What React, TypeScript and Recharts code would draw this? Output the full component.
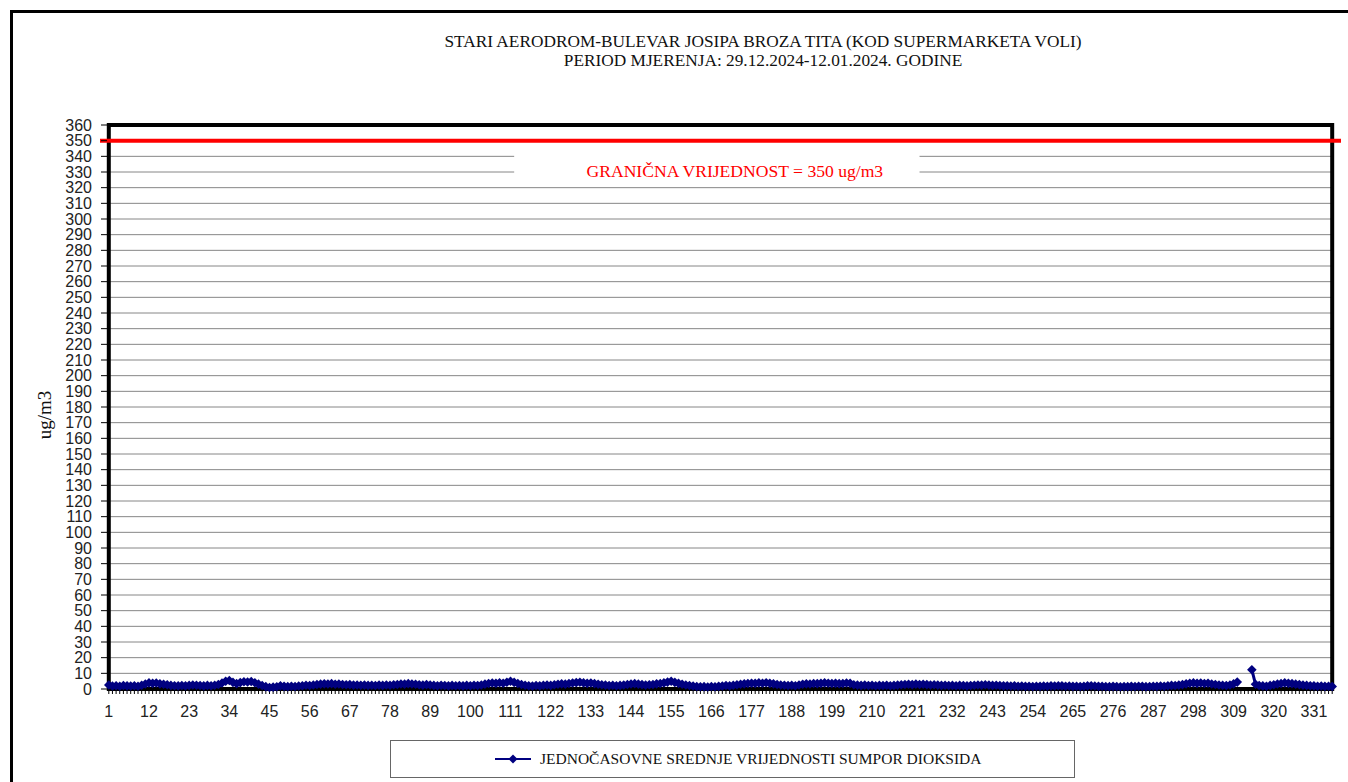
import React from "react";
import {
  LineChart,
  Line,
  XAxis,
  YAxis,
  CartesianGrid,
  ReferenceLine,
  ReferenceArea,
} from "recharts";

// jednočasovne srednje vrijednosti SO2 (ug/m3), 336 sati
const so2Values: (number | null)[] = [
  2.6, 1.9, 2.1, 1.8, 2.2, 2.0, 1.9, 2.1, 1.8, 2.4, 3.2, 3.9, 3.6, 3.8, 3.3, 3.0, 2.7, 2.3, 2.1, 2.0, 2.2, 2.0, 2.3, 2.6,
  2.4, 2.2, 2.0, 2.3, 2.1, 2.4, 2.9, 3.8, 4.9, 5.4, 4.2, 3.4, 4.1, 4.6, 4.5, 4.8, 4.0, 3.1, 2.2, 1.5, 1.0, 1.2, 1.4, 2.0,
  1.7, 1.5, 1.8, 1.6, 1.9, 2.1, 2.4, 2.2, 2.6, 2.9, 3.1, 3.3, 3.2, 3.4, 3.0, 3.2, 2.9, 2.7, 2.8, 2.5, 2.6, 2.4, 2.5, 2.3,
  2.4, 2.2, 2.5, 2.3, 2.6, 2.4, 2.7, 2.9, 3.2, 3.1, 3.4, 3.2, 3.0, 2.7, 2.5, 2.8, 2.6, 2.3, 2.1, 2.4, 2.2, 2.0, 2.3, 2.1,
  2.2, 2.0, 2.3, 2.1, 2.4, 2.2, 2.6, 3.1, 3.5, 3.8, 3.6, 4.0, 3.7, 4.3, 4.9, 4.2, 3.5, 2.9, 2.4, 2.1, 1.9, 2.2, 2.0, 2.4,
  2.6, 2.3, 2.7, 3.0, 3.3, 3.1, 3.5, 3.8, 4.1, 4.3, 3.9, 3.6, 3.8, 3.4, 3.0, 2.7, 2.5, 2.2, 2.4, 2.1, 2.3, 2.6, 2.9, 3.2,
  3.4, 3.1, 2.8, 2.5, 2.7, 2.9, 3.3, 3.5, 3.9, 4.4, 4.9, 4.2, 3.6, 3.0, 2.6, 2.2, 1.9, 1.6, 1.4, 1.5, 1.3, 1.6, 1.4, 1.7,
  1.9, 2.2, 2.0, 2.4, 2.7, 3.0, 3.3, 3.5, 3.7, 3.6, 3.9, 3.7, 4.0, 3.6, 3.3, 2.9, 2.6, 2.4, 2.2, 2.4, 2.1, 2.6, 3.0, 3.3,
  3.2, 3.5, 3.4, 3.6, 3.9, 3.7, 3.5, 3.6, 3.4, 3.5, 3.8, 3.6, 2.7, 2.5, 2.3, 2.5, 2.2, 2.4, 2.1, 2.3, 2.2, 2.4, 2.1, 2.3,
  2.5, 2.7, 2.9, 3.0, 2.8, 3.1, 2.9, 3.0, 2.8, 2.6, 2.7, 2.5, 2.3, 2.4, 2.2, 2.3, 2.1, 2.3, 2.2, 2.0, 2.2, 2.4, 2.6, 2.5,
  2.7, 2.5, 2.3, 2.4, 2.2, 2.0, 2.1, 1.9, 2.0, 1.8, 1.9, 1.7, 1.8, 1.6, 1.8, 1.7, 1.9, 1.8, 2.0, 1.9, 2.1, 2.0, 1.8, 1.9,
  1.7, 1.8, 1.6, 1.8, 2.0, 2.1, 1.9, 1.7, 1.8, 1.6, 1.5, 1.7, 1.6, 1.4, 1.6, 1.5, 1.7, 1.6, 1.8, 1.7, 1.5, 1.6, 1.8, 1.7,
  1.9, 1.8, 2.1, 2.3, 2.2, 2.5, 2.8, 3.3, 3.7, 3.9, 3.6, 3.8, 3.5, 3.7, 3.2, 2.9, 2.6, 2.4, 2.2, 2.6, 3.3, 4.4, null, null,
  null, 12.3, 3.0, 2.2, 2.0, 1.8, 2.3, 2.7, 3.2, 3.5, 3.9, 3.6, 3.4, 3.1, 2.8, 2.5, 2.3, 2.1, 2.0, 1.8, 1.9, 1.7, 1.8, 1.6,
];

const hours = so2Values.map((_, i) => i + 1);

const yTicks = [
  0, 10, 20, 30, 40, 50, 60, 70, 80, 90, 100, 110, 120, 130, 140, 150, 160, 170, 180,
  190, 200, 210, 220, 230, 240, 250, 260, 270, 280, 290, 300, 310, 320, 330, 340, 350, 360,
];

const limitValue = 350;
const labelEvery = 11;

const data = hours.map((h, i) => ({ hour: h, so2: so2Values[i] }));

const NAVY = "#000080";
const tickFont = "'Liberation Sans', Arial, sans-serif";
const serifFont = "'Liberation Serif', 'Times New Roman', serif";

const Diamond = (props: any) => {
  const { cx, cy, value, index } = props;
  if (value == null || cx == null || cy == null) return <g key={`d-${index}`} />;
  const r = 4.8;
  return (
    <polygon
      key={`d-${index}`}
      points={`${cx},${cy - r} ${cx + r},${cy} ${cx},${cy + r} ${cx - r},${cy}`}
      fill={NAVY}
    />
  );
};

const HourTick = (props: any) => {
  const { x, y, payload } = props;
  const v = Number(payload.value);
  if ((v - 1) % labelEvery !== 0) return <g />;
  return (
    <text x={x} y={y + 21} textAnchor="middle" fontSize={16} fill="#222" fontFamily={tickFont}>
      {v}
    </text>
  );
};

export default function App() {
  return (
    <div
      style={{
        position: "absolute",
        left: 0,
        top: 0,
        width: 1348,
        height: 782,
        overflow: "hidden",
        background: "#fff",
      }}
    >
      {/* okvir */}
      <div
        style={{
          position: "absolute",
          left: 10,
          top: 10,
          width: 1400,
          height: 820,
          border: "3px solid #000",
        }}
      />

      {/* naslov */}
      <div
        style={{
          position: "absolute",
          left: 363,
          top: 32,
          width: 800,
          textAlign: "center",
          fontFamily: serifFont,
          fontSize: 17.3,
          lineHeight: "19px",
          color: "#111",
        }}
      >
        <div>STARI AERODROM-BULEVAR JOSIPA BROZA TITA (KOD SUPERMARKETA VOLI)</div>
        <div>PERIOD MJERENJA: 29.12.2024-12.01.2024. GODINE</div>
      </div>

      {/* oznaka y ose */}
      <div
        style={{
          position: "absolute",
          left: 45,
          top: 415,
          transform: "translate(-50%, -50%) rotate(-90deg)",
          fontFamily: serifFont,
          fontSize: 19,
          color: "#111",
          whiteSpace: "nowrap",
        }}
      >
        ug/m3
      </div>

      <div style={{ position: "absolute", left: 0, top: 0 }}>
        <LineChart
          width={1348}
          height={782}
          data={data}
          margin={{ top: 125, right: 14, left: 0, bottom: 63 }}
        >
          <CartesianGrid vertical={false} stroke="#868686" strokeWidth={1} />
          <XAxis
            dataKey="hour"
            interval={0}
            tickSize={5}
            tickMargin={2}
            tickLine={{ stroke: "#000" }}
            axisLine={false}
            padding={{ left: 1.8, right: 1.8 }}
            height={30}
            tick={<HourTick />}
          />
          <YAxis
            domain={[0, 360]}
            ticks={yTicks}
            interval={0}
            width={107}
            tickSize={6}
            tickMargin={9}
            tickLine={{ stroke: "#000" }}
            axisLine={false}
            tick={{ fontSize: 16, fill: "#222", fontFamily: tickFont }}
          />
          <ReferenceArea
            x1={112}
            x2={223}
            y1={323}
            y2={344}
            fill="#fff"
            fillOpacity={1}
            stroke="none"
            label={(p: any) => {
              const vb = p.viewBox || {};
              return (
                <text
                  x={vb.x + vb.width / 2 + 18}
                  y={vb.y + 27}
                  textAnchor="middle"
                  fontSize={17.6}
                  fill="#ff0000"
                  fontFamily={serifFont}
                >
                  GRANIČNA VRIJEDNOST = 350 ug/m3
                </text>
              );
            }}
          />
          <ReferenceArea
            y1={0}
            y2={360}
            fill="none"
            fillOpacity={0}
            stroke="#000"
            strokeWidth={4}
          />
          <Line
            type="linear"
            dataKey="so2"
            stroke={NAVY}
            strokeWidth={3}
            dot={Diamond}
            activeDot={false}
            connectNulls={false}
            isAnimationActive={false}
          />
          <ReferenceLine
            y={limitValue}
            stroke="#ff0000"
            strokeWidth={4}
            shape={(p: any) => (
              <line x1={p.x1 - 7} y1={p.y1} x2={p.x2 + 7} y2={p.y2} stroke="#ff0000" strokeWidth={4} />
            )}
          />
        </LineChart>
      </div>

      {/* legenda */}
      <div
        style={{
          position: "absolute",
          left: 390,
          top: 740,
          width: 683,
          height: 36,
          border: "1px solid #666",
          display: "flex",
          alignItems: "center",
          justifyContent: "flex-start",
          fontFamily: serifFont,
          fontSize: 15.5,
          color: "#111",
        }}
      >
        <svg width={40} height={12} style={{ marginLeft: 104, marginRight: 5 }}>
          <line x1={0} y1={6} x2={36} y2={6} stroke={NAVY} strokeWidth={2} />
          <polygon points="18,1.5 22.5,6 18,10.5 13.5,6" fill={NAVY} />
        </svg>
        <span>JEDNOČASOVNE SREDNJE VRIJEDNOSTI SUMPOR DIOKSIDA</span>
      </div>
    </div>
  );
}
